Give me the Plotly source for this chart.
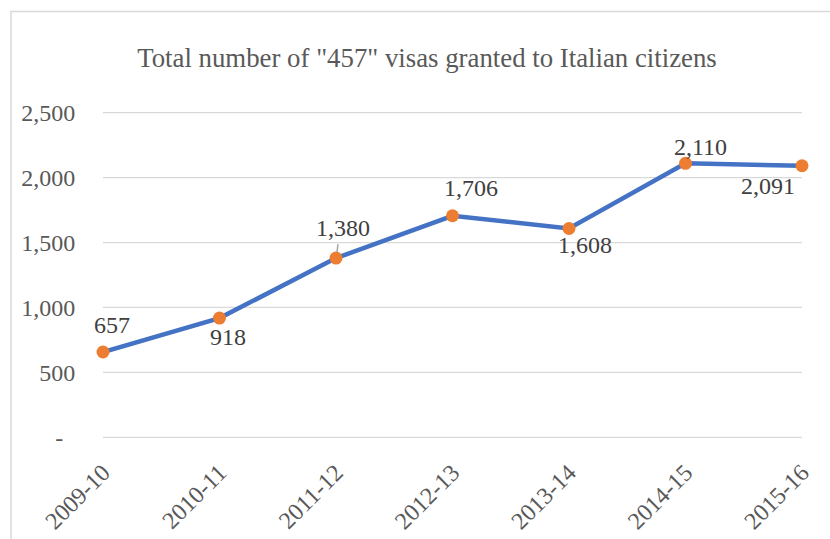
import plotly.graph_objects as go

# Financial years and visa counts
years = ["2009-10", "2010-11", "2011-12", "2012-13", "2013-14", "2014-15", "2015-16"]
visas = [657, 918, 1380, 1706, 1608, 2110, 2091]

# Y axis ticks (accounting style: zero shown as a dash)
y_ticks = [0, 500, 1000, 1500, 2000, 2500]
y_tick_text = ["-\u00a0\u00a0", "500", "1,000", "1,500", "2,000", "2,500"]

# Pixel offsets of each data label relative to its point
label_dx = [9, 8, 7, 18, 16, 15, -34]
label_dy = [27, -19, 30, 28, -16, 16, -20]

FONT = "Liberation Serif, Times New Roman, serif"
TXT = "#595959"
GRID = "#D9D9D9"

x_idx = list(range(len(years)))

fig = go.Figure()

# Horizontal gridlines at every y tick, including both range ends
for t in y_ticks:
    fig.add_shape(
        type="line", xref="paper", yref="y",
        x0=0, x1=1, y0=t, y1=t,
        line=dict(color=GRID, width=1.3), layer="below",
    )

fig.add_trace(go.Scatter(
    x=x_idx, y=visas,
    mode="lines+markers",
    line=dict(color="#4472C4", width=4.5),
    marker=dict(color="#ED7D31", size=13),
    hoverinfo="skip",
    cliponaxis=False,
))

for i, v in enumerate(visas):
    fig.add_annotation(
        x=i, y=v, text=f"{v:,}", showarrow=False,
        xshift=label_dx[i], yshift=label_dy[i],
        font=dict(family=FONT, size=24, color="#404040"),
    )

# Leader line for the 2011-12 label
fig.add_shape(
    type="line", xref="x", yref="y",
    xsizemode="pixel", ysizemode="pixel",
    xanchor=2, yanchor=visas[2],
    x0=1, y0=6, x1=2, y1=14,
    line=dict(color="#A6A6A6", width=1.5),
)

# Chart area border
fig.add_shape(
    type="rect", xref="paper", yref="paper",
    x0=-0.1316, x1=1.2, y0=-0.6, y1=1.3086,
    line=dict(color=GRID, width=1.5), fillcolor="rgba(0,0,0,0)",
    layer="below",
)

fig.update_layout(
    width=830, height=539,
    margin=dict(l=103, r=28, t=112, b=101),
    paper_bgcolor="white", plot_bgcolor="white",
    showlegend=False,
    title=dict(
        text='Total number of "457" visas granted to Italian citizens',
        x=427 / 830, xref="container", xanchor="center",
        y=1 - 58 / 539, yref="container", yanchor="middle",
        font=dict(family=FONT, size=26.8, color=TXT),
    ),
    xaxis=dict(
        range=[0, 6], automargin=False,
        tickvals=x_idx, ticktext=years,
        tickangle=-45,
        showgrid=False, zeroline=False, showline=False,
        ticks="outside", ticklen=10, tickcolor="rgba(0,0,0,0)",
        tickfont=dict(family=FONT, size=24, color=TXT),
    ),
    yaxis=dict(
        range=[-5, 2505], automargin=False,
        tickvals=y_ticks, ticktext=y_tick_text,
        showgrid=False, zeroline=False, showline=False,
        ticks="outside", ticklen=22, tickcolor="rgba(0,0,0,0)",
        tickfont=dict(family=FONT, size=24, color=TXT),
    ),
)

fig.write_html("out.html")
